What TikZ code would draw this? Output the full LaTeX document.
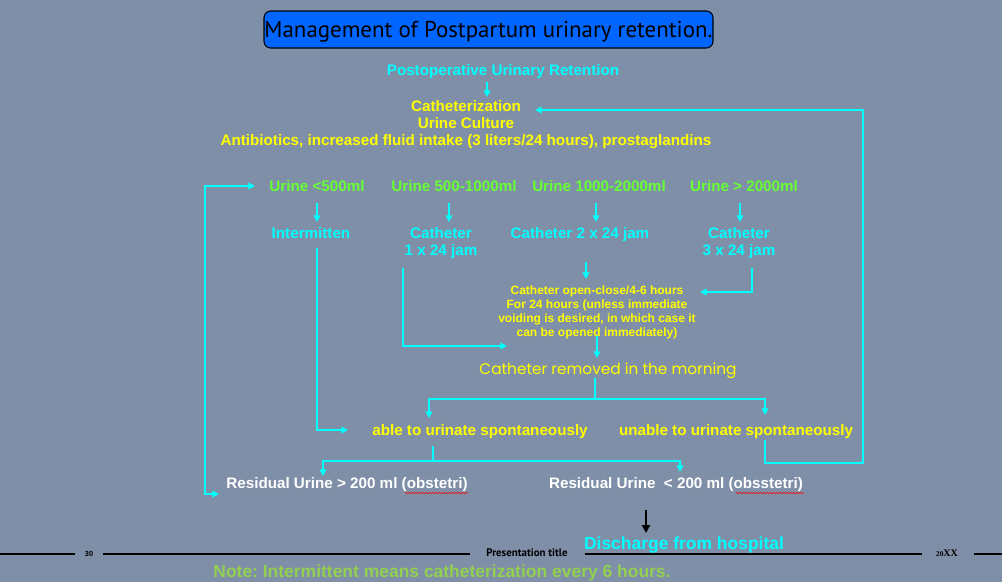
\documentclass[tikz,border=0pt]{standalone}
\usepackage{fontspec}
\setmainfont{Liberation Sans}
\newfontfamily\titlefont{PT Sans}
\newfontfamily\popfont{Poppins}
\newfontfamily\serfont{Liberation Serif}
\usetikzlibrary{arrows.meta,calc,decorations.pathmorphing}
\frenchspacing
\definecolor{bg}{RGB}{127,143,168}
\definecolor{titleblue}{RGB}{0,102,255}
\definecolor{cy}{RGB}{0,255,255}
\definecolor{yl}{RGB}{255,255,0}
\definecolor{gr}{RGB}{102,255,51}
\definecolor{notegr}{RGB}{146,208,80}
\tikzset{
  tx/.style={inner sep=0pt, text height=9pt, text depth=0.8pt, font=\bfseries\fontsize{11.4}{13.7}\selectfont},
  cyt/.style={tx, text=cy},
  ylt/.style={tx, text=yl},
  grt/.style={tx, text=gr},
  wht/.style={tx, text=white},
  conn/.style={draw=cy, line width=1.5pt},
  arr/.style={conn, -{Triangle[length=5pt,width=5pt]}},
  darr/.style={conn, {Triangle[length=5pt,width=5pt]}-{Triangle[length=5pt,width=5pt]}},
  foot/.style={draw=black, line width=1.1pt},
  spell/.style={draw=red, line width=0.4pt, decorate, decoration={snake, amplitude=0.6pt, segment length=2.5pt}}
}
\begin{document}
\begin{tikzpicture}[x=0.75pt,y=-0.75pt]
\fill[bg] (0,0) rectangle (1002,582);
\useasboundingbox (0,0) rectangle (1002,582);

% footer
\node[inner sep=0pt, font=\bfseries\fontsize{5.5}{6}\selectfont] (n30) at (89,554) {30};
\node[inner sep=0pt, font=\titlefont\bfseries\fontsize{8.2}{9}\selectfont] (ptitle) at (527,553) {Presentation title};
\node[inner sep=0pt, font=\serfont\bfseries\fontsize{7.5}{8}\selectfont] (xx) at (947,553) {{\fontsize{5.5}{6}\selectfont 20}XX};
\coordinate (fl) at (0,554);
\coordinate (fr) at (1002,554);
\draw[foot] (fl) -- ($(n30.west)+(-10,0)$);
\draw[foot] ($(n30.east)+(10,0)$) -- ($(ptitle.west)+(-16,1)$);
\draw[foot] ($(ptitle.east)+(17,1)$) -- ($(xx.west)+(-14,1)$);
\draw[foot] ($(xx.east)+(16,1)$) -- (fr);

% title
\node[draw=black, line width=0.8pt, fill=titleblue, rounded corners=5pt,
      minimum width=336.75pt, minimum height=27.75pt, inner sep=0pt,
      text height=12.4pt, text depth=0pt,
      font=\titlefont\fontsize{17.2}{20}\selectfont, text=black] (title) at (488.5,29.5)
      {Management of Postpartum urinary retention.};

% top part
\node[cyt] (por) at (503,70) {Postoperative Urinary Retention};
\node[ylt] (cat1) at (466,106) {Catheterization};
\node[ylt] (cat2) at (466,123) {Urine Culture};
\node[ylt] (cat3) at (466,140) {Antibiotics, increased fluid intake (3 liters/24 hours), prostaglandins};

% urine volumes
\node[grt] (u1) at (317,186) {Urine <500ml};
\node[grt] (u2) at (454,186) {Urine 500-1000ml};
\node[grt] (u3) at (599,186) {Urine 1000-2000ml};
\node[grt] (u4) at (744,186) {Urine > 2000ml};

% treatments
\node[cyt] (int) at (311,233) {Intermitten};
\node[cyt] (c1a) at (441,233) {Catheter};
\node[cyt] (c1b) at (441,250) {1 x 24 jam};
\node[cyt] (c2) at (580,233) {Catheter 2 x 24 jam};
\node[cyt] (c3a) at (739,233) {Catheter};
\node[cyt] (c3b) at (739,250) {3 x 24 jam};

\node[inner sep=0pt, text=yl, align=center, font=\bfseries\fontsize{9}{10.5}\selectfont] (oc) at (597,312)
  {Catheter open-close/4-6 hours\\For 24 hours (unless immediate\\voiding is desired, in which case it\\can be opened immediately)};

\node[inner sep=0pt, text=yl, font=\popfont\fontsize{11.5}{13}\selectfont] (crm) at (608,371) {Catheter removed in the morning};

\node[ylt] (able) at (480,430) {able to urinate spontaneously};
\node[ylt] (unable) at (736,430) {unable to urinate spontaneously};

\node[wht] (r1) at (347,483) {Residual Urine > 200 ml (obstetri)};
\node[wht] (r2) at (676,483) {Residual Urine \ < 200 ml (obsstetri)};

\node[inner sep=0pt, text=cy, font=\bfseries\fontsize{13.1}{15}\selectfont] (dis) at (684,545) {Discharge from hospital};

% connectors
\draw[arr] ($(por)+(-16,12)$) -- ($(cat1)+(21,-9)$);
\draw[arr] ($(unable)+(29,10)$) -- ++(0,23) -- ++(98,0) |- ($(cat1)+(69,4)$);
\draw[darr] ($(r1)+(-128,11)$) -- ++(-14,0) |- ($(u1)+(-62,0)$);

\draw[arr] ($(u1)+(0,17)$) -- ($(int)+(6,-11)$);
\draw[arr] ($(u2)+(-5,17)$) -- ($(c1a)+(8,-11)$);
\draw[arr] ($(u3)+(-3,17)$) -- ($(c2)+(16,-11)$);
\draw[arr] ($(u4)+(-4,17)$) -- ($(c3a)+(1,-11)$);

\draw[arr] ($(int)+(6,15)$) |- ($(able)+(-132,0)$);
\draw[arr] ($(c1b)+(-38,18)$) |- ($(oc)+(-90,34)$);
\draw[arr] ($(c2)+(6,29)$) -- ($(oc)+(-11,-33)$);
\draw[arr] ($(c3b)+(13,18)$) |- ($(oc)+(103,-20)$);
\draw[arr] ($(oc)+(0,24)$) -- ($(crm)+(-11,-13)$);

\draw[conn] ($(crm)+(-13,7)$) -- ++(0,21) coordinate (j1);
\draw[arr] (j1) -| ($(able)+(-51,-12)$);
\draw[arr] (j1) -| ($(unable)+(29,-15)$);

\draw[conn] ($(able)+(-47,16)$) -- ++(0,15) coordinate (j2);
\draw[arr] (j2) -| ($(r1)+(-24,-7)$);
\draw[arr] (j2) -| ($(r2)+(4,-11)$);

\draw[line width=1.6pt, -{Triangle[length=6pt,width=6pt]}] ($(dis)+(-38,-35)$) -- ($(dis)+(-38,-12)$);

% spellcheck underlines
\draw[spell] ($(r1)+(58,10)$) -- ($(r1)+(121,10)$);
\draw[spell] ($(r2)+(60,10)$) -- ($(r2)+(128,10)$);

\node[inner sep=0pt, text=notegr, font=\bfseries\fontsize{13.1}{15}\selectfont] (note) at (442,573)
  {Note: Intermittent means catheterization every 6 hours.};
\end{tikzpicture}
\end{document}
